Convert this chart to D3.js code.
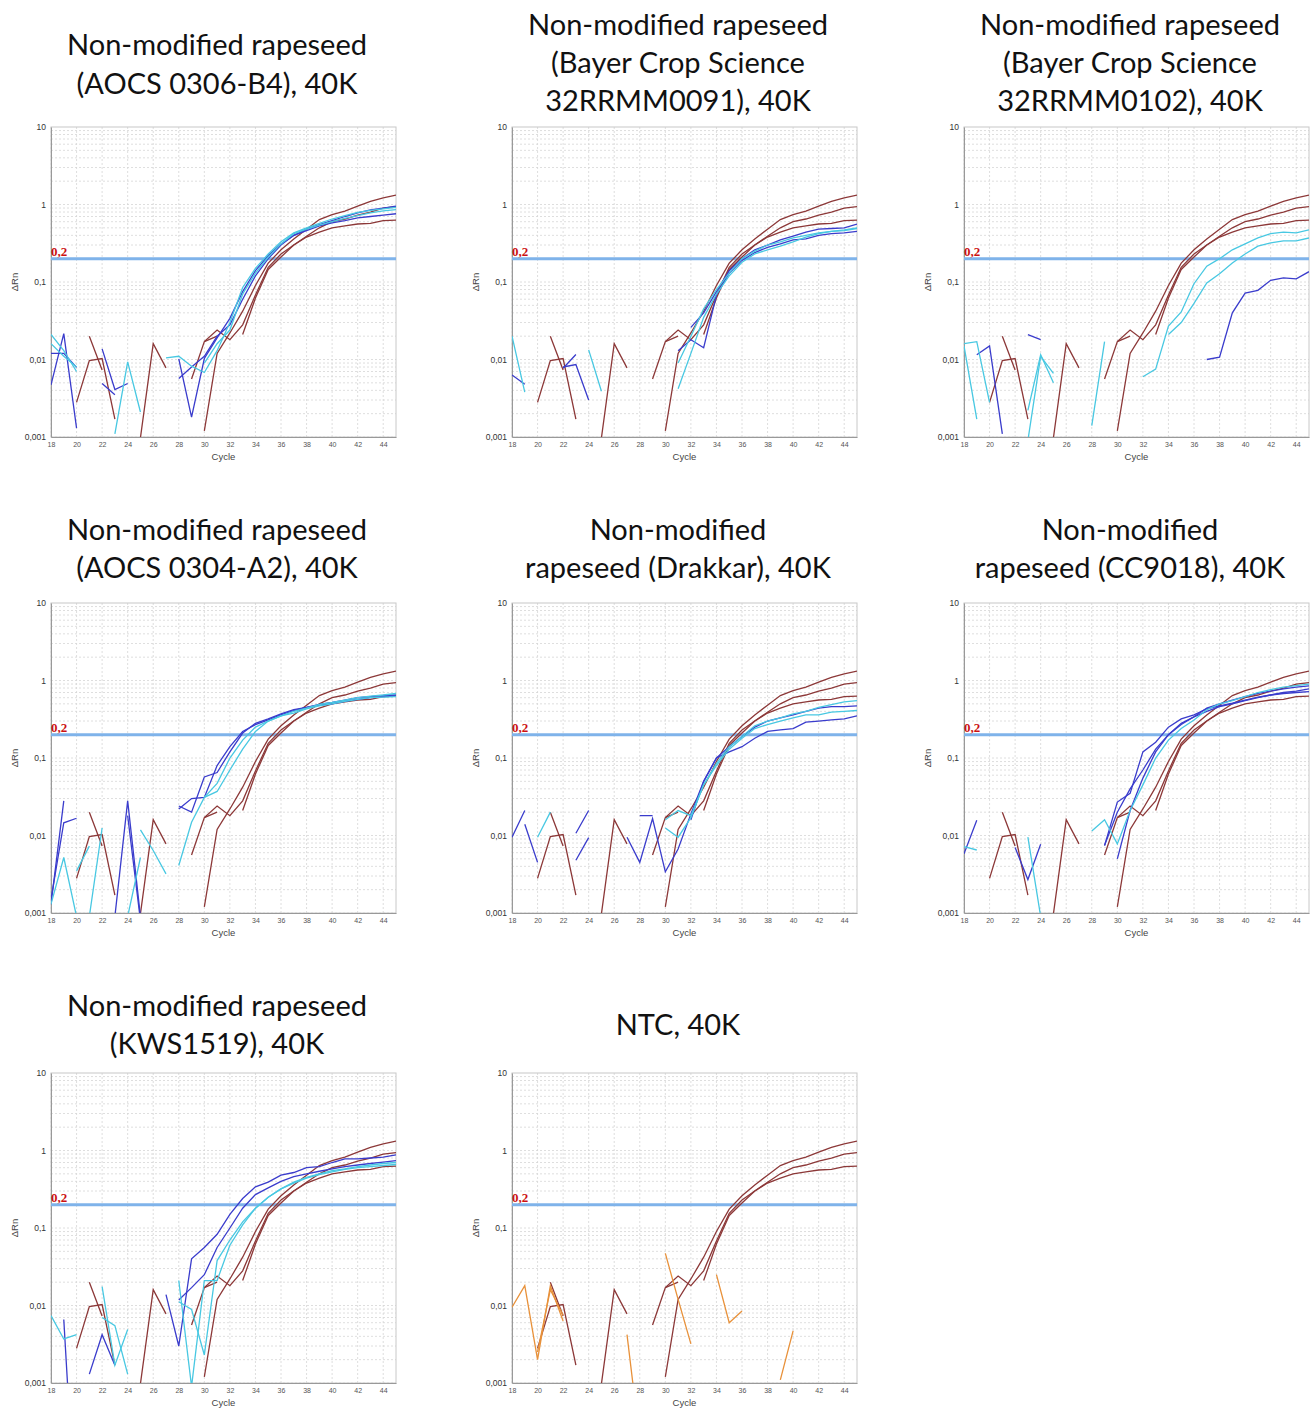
<!DOCTYPE html>
<html>
<head>
<meta charset="utf-8">
<script src="https://cdn.jsdelivr.net/npm/d3@7"></script>
<style>
  body { margin: 0; background: #fff; }
  svg { display: block; }
</style>
</head>
<body>
<svg id="chart" width="1313" height="1408"></svg>
<script>
// Cycle numbers on the x axis
var cycles = [18,19,20,21,22,23,24,25,26,27,28,29,30,31,32,33,34,35,36,37,38,39,40,41,42,43,44,45];
var xTicks = [18,20,22,24,26,28,30,32,34,36,38,40,42,44];
var yTicks = [0.001, 0.01, 0.1, 1, 10];
var threshold = 0.2;

// Positive control (same three amplification curves in every panel)
var control1 = [null,null,.0028,.0097,.0103,.0017,null,null,null,null,null,null,.0012,.012,.022,.042,.09,.175,.26,.36,.48,.64,.74,.82,.95,1.1,1.22,1.32];
var control2 = [null,null,null,.02,.0073,null,null,null,null,null,null,.0056,.017,.024,.018,.028,.068,.155,.23,.3,.39,.5,.6,.65,.73,.8,.9,.94];
var control3 = [null,null,null,null,null,null,null,.00098,.016,.0078,null,null,.017,.02,null,.021,.062,.145,.21,.3,.38,.44,.5,.53,.56,.57,.62,.63];

// Samples: extract A (blue) / extract B (cyan)
var aocs0306B4_A = [
  [.0047,.0216,.0013,null,.0137,.0041,.0049,null,null,null,.0102,.0018,.0103,.019,.034,.075,.14,.22,.31,.4,.46,.53,.58,.62,.67,.7,.73,.76],
  [.012,.012,.0079,null,.0049,.0035,null,null,null,null,.0057,.008,.011,.02,.028,.06,.12,.2,.3,.4,.48,.55,.62,.7,.78,.85,.9,.95]
];
var aocs0306B4_B = [
  [.021,.013,.007,null,null,.0011,.0093,.0021,null,.0105,.011,.0082,.0068,.013,.03,.085,.15,.23,.33,.43,.5,.57,.65,.72,.79,.84,.88,.92],
  [.016,.011,.008,null,null,null,null,null,null,null,null,null,.009,.016,.024,.07,.13,.21,.31,.42,.48,.54,.6,.66,.72,.78,.83,.86]
];
var bayer0091_A = [
  [.0063,.0048,null,null,.0077,.0116,null,null,null,null,null,null,null,.013,.018,.0142,.068,.13,.19,.24,.28,.31,.35,.36,.4,.42,.43,.45],
  [null,null,null,null,.008,.0086,.003,null,null,null,null,null,null,null,.026,.04,.075,.14,.2,.26,.3,.35,.39,.44,.48,.49,.5,.56]
];
var bayer0091_B = [
  [.02,.0038,null,null,null,null,.0133,.0039,null,null,null,null,null,.0042,.012,.035,.07,.12,.18,.23,.26,.29,.33,.38,.42,.45,.46,.49],
  [null,null,null,null,null,null,null,null,null,null,null,null,null,.009,.02,.045,.08,.13,.2,.25,.3,.33,.37,.4,.43,.45,.47,.5]
];
var bayer0102_A = [
  [null,.0115,.015,.0011,null,.021,.018,null,null,null,null,null,null,null,null,null,null,null,null,.01,.0107,.04,.072,.078,.105,.113,.11,.136]
];
var bayer0102_B = [
  [.015,.0017,null,null,null,.0022,.0115,.005,null,null,.0014,.017,null,null,.006,.0075,.027,.041,.095,.16,.2,.26,.31,.37,.42,.44,.43,.47],
  [.016,.017,.0028,null,null,.0009,.011,.0066,null,null,null,null,null,null,null,null,.021,.03,.053,.097,.128,.176,.23,.29,.32,.34,.34,.37]
];
var aocs0304A2_A = [
  [.0013,.028,null,null,null,.0009,.028,.0009,null,null,.024,.02,.057,.065,.12,.21,.28,.32,.37,.42,.45,.49,.52,.56,.6,.62,.64,.65],
  [.0015,.0146,.0167,null,null,null,.018,.0008,null,null,.022,.03,.031,.08,.14,.22,.27,.31,.36,.41,.45,.48,.5,.54,.57,.6,.62,.63]
];
var aocs0304A2_B = [
  [.0013,.0052,.0009,.0009,.0125,null,.0009,.0052,null,null,.0041,.0148,.031,.047,.1,.17,.25,.3,.35,.4,.44,.49,.52,.56,.6,.63,.65,.68],
  [null,null,.0035,.0073,null,null,null,.0118,.0064,.0032,null,null,.031,.037,.07,.13,.22,.3,.35,.38,.43,.47,.5,.54,.57,.6,.61,.62]
];
var drakkar_A = [
  [.0095,.021,null,null,null,.0107,.021,null,null,null,.018,.018,null,null,.016,.05,.1,.14,.19,.25,.3,.33,.36,.4,.44,.46,.46,.47],
  [null,.014,.0045,null,null,.0048,.0094,null,null,.0095,.0045,.0165,.0034,.0067,.019,.05,.1,.12,.14,.18,.22,.23,.24,.29,.3,.31,.32,.35]
];
var drakkar_B = [
  [null,null,.0095,.02,null,null,null,null,null,null,null,null,.0125,.0095,.017,.045,.085,.14,.19,.26,.3,.33,.37,.4,.45,.49,.53,.55],
  [null,null,null,null,null,null,null,null,null,null,null,null,.016,.021,.018,.045,.08,.13,.18,.24,.27,.3,.33,.36,.36,.39,.4,.41]
];
var cc9018_A = [
  [.0058,.0157,null,null,.007,.0027,.0077,null,null,null,null,.0074,.027,.035,.12,.16,.25,.32,.36,.43,.47,.51,.56,.61,.65,.68,.7,.72],
  [null,null,null,null,null,null,null,null,null,null,null,null,.005,.021,.055,.12,.2,.28,.34,.4,.46,.5,.55,.6,.65,.7,.73,.78],
  [null,null,null,null,null,null,null,null,null,null,null,.0075,.02,.04,.07,.13,.2,.27,.34,.44,.5,.56,.62,.68,.73,.78,.82,.85]
];
var cc9018_B = [
  [.0072,.0065,null,null,null,.0095,.0009,null,null,null,.0114,.016,.0078,.021,.045,.1,.17,.24,.31,.42,.5,.55,.62,.7,.76,.82,.86,.9]
];
var kws1519_A = [
  [null,.0066,.00001,null,null,null,null,null,null,.0138,.003,.04,.056,.083,.15,.24,.34,.39,.48,.52,.6,.62,.7,.78,.78,.8,.82,.88],
  [null,null,null,.0013,.0042,.0017,null,null,null,null,.0118,.017,.025,.056,.1,.18,.27,.33,.4,.46,.5,.54,.58,.62,.65,.68,.71,.74]
];
var kws1519_B = [
  [.0074,.0037,.0042,null,.0175,.0017,.0049,null,null,null,.021,.0009,.021,.021,.06,.11,.18,.25,.32,.39,.45,.5,.55,.58,.62,.65,.68,.7],
  [null,null,null,null,.007,.0055,.0013,null,null,null,.0112,.0089,.0023,.038,.07,.12,.18,.25,.32,.38,.44,.49,.53,.57,.6,.62,.64,.66]
];
var ntc = [
  [.0095,.018,.002,.018,.0063,null,null,null,null,.0042,.00018,null,.047,.012,.0032,null,.025,.006,.0085,null,null,.0011,.0047,null,null,null,null,null],
  [null,null,.0025,.016,.0075,null,null,null,null,null,null,null,null,null,null,null,null,null,null,null,null,null,null,null,null,null,null,null]
];

var titles = [
  ["Non-modified rapeseed", "(AOCS 0306-B4), 40K"],
  ["Non-modified rapeseed", "(Bayer Crop Science", "32RRMM0091), 40K"],
  ["Non-modified rapeseed", "(Bayer Crop Science", "32RRMM0102), 40K"],
  ["Non-modified rapeseed", "(AOCS 0304-A2), 40K"],
  ["Non-modified", "rapeseed (Drakkar), 40K"],
  ["Non-modified", "rapeseed (CC9018), 40K"],
  ["Non-modified rapeseed", "(KWS1519), 40K"],
  ["NTC, 40K"]
];

var panels = [
  { title: titles[0], groups: { extractA: aocs0306B4_A, extractB: aocs0306B4_B } },
  { title: titles[1], groups: { extractA: bayer0091_A, extractB: bayer0091_B } },
  { title: titles[2], groups: { extractA: bayer0102_A, extractB: bayer0102_B } },
  { title: titles[3], groups: { extractA: aocs0304A2_A, extractB: aocs0304A2_B } },
  { title: titles[4], groups: { extractA: drakkar_A, extractB: drakkar_B } },
  { title: titles[5], groups: { extractA: cc9018_A, extractB: cc9018_B } },
  { title: titles[6], groups: { extractA: kws1519_A, extractB: kws1519_B } },
  { title: titles[7], groups: { ntc: ntc } }
];

// Layout
var colX = [51, 512, 964];
var rowY = [127, 603, 1073];
var titleY = [[55, 94], [35, 73, 111], [35, 73, 111], [540, 578], [540, 578], [540, 578], [1016, 1054], [1035]];
var pw = 345, ph = 310;
var colors = { control: "#8c3838", extractA: "#3a3ccc", extractB: "#48c8e2", ntc: "#e8913a" };

var svg = d3.select("#chart");
var fmt = function (d) { return String(d).replace(".", ","); };

panels.forEach(function (p, i) {
    var left = colX[i % 3], top = rowY[Math.floor(i / 3)];

    var x = d3.scaleLinear().domain([18, 45]).range([0, pw]);
    var y = d3.scaleLog().domain([0.001, 10]).range([ph, 0]);

    // Title
    svg.append("text")
        .attr("text-anchor", "middle")
        .attr("font-family", "Lato, 'Liberation Sans', sans-serif")
        .attr("font-size", 29)
        .attr("fill", "#111")
        .selectAll("tspan")
        .data(p.title)
        .enter().append("tspan")
        .attr("x", left + 166)
        .attr("y", function (d, k) { return titleY[i][k]; })
        .text(function (d) { return d; });

    var g = svg.append("g").attr("transform", "translate(" + left + "," + top + ")");

    g.append("clipPath").attr("id", "clip" + i)
        .append("rect").attr("width", pw).attr("height", ph);

    // Grid
    var minor = [];
    [0.001, 0.01, 0.1, 1].forEach(function (dec) {
        for (var m = 1; m <= 9; m++) minor.push(dec * m);
    });
    g.selectAll(".hgrid").data(minor).enter().append("line")
        .attr("x1", 0).attr("x2", pw)
        .attr("y1", function (d) { return y(d); }).attr("y2", function (d) { return y(d); })
        .attr("stroke", "#d6d6d6").attr("stroke-width", 0.8)
        .attr("stroke-dasharray", "2,2");
    g.selectAll(".vgrid").data(xTicks).enter().append("line")
        .attr("x1", function (d) { return x(d); }).attr("x2", function (d) { return x(d); })
        .attr("y1", 0).attr("y2", ph)
        .attr("stroke", "#d6d6d6").attr("stroke-width", 0.8)
        .attr("stroke-dasharray", "2,2");

    // Frame
    g.append("rect").attr("width", pw).attr("height", ph)
        .attr("fill", "none").attr("stroke", "#c8c8c8");

    // Axes
    var xAxis = g.append("g").attr("transform", "translate(0," + ph + ")")
        .call(d3.axisBottom(x).tickValues(xTicks).tickSize(0).tickPadding(5));
    xAxis.select(".domain").attr("stroke", "#999");
    xAxis.selectAll("text").attr("font-size", 7).attr("fill", "#555")
        .attr("font-family", "'Liberation Sans', Arial, sans-serif");

    var yAxis = g.append("g")
        .call(d3.axisLeft(y).tickValues(yTicks).tickFormat(fmt).tickSize(0).tickPadding(5));
    yAxis.select(".domain").attr("stroke", "#999");
    yAxis.selectAll("text").attr("font-size", 8.5).attr("fill", "#333")
        .attr("font-family", "'Liberation Sans', Arial, sans-serif");

    g.append("text")
        .attr("x", pw / 2).attr("y", ph + 23)
        .attr("text-anchor", "middle")
        .attr("font-size", 9.5).attr("fill", "#444")
        .attr("font-family", "'Liberation Sans', Arial, sans-serif")
        .text("Cycle");
    g.append("text")
        .attr("transform", "translate(-33," + (ph / 2) + ") rotate(-90)")
        .attr("text-anchor", "middle")
        .attr("font-size", 9.5).attr("fill", "#444")
        .attr("font-family", "'Liberation Sans', Arial, sans-serif")
        .text("ΔRn");

    // Threshold
    g.append("line")
        .attr("x1", 0).attr("x2", pw)
        .attr("y1", y(threshold)).attr("y2", y(threshold))
        .attr("stroke", "#7fb3ea").attr("stroke-width", 3);
    g.append("text")
        .attr("x", 0).attr("y", y(threshold) - 2.5)
        .attr("font-family", "'Liberation Serif', 'DejaVu Serif', serif")
        .attr("font-weight", "bold").attr("font-size", 13)
        .attr("fill", "#cc1111")
        .text(fmt(threshold));

    // Curves
    var line = d3.line()
        .defined(function (d) { return d != null; })
        .x(function (d, k) { return x(cycles[k]); })
        .y(function (d) { return y(d); });

    var plot = g.append("g").attr("clip-path", "url(#clip" + i + ")");

    var series = [];
    [control1, control2, control3].forEach(function (v) { series.push({ kind: "control", v: v }); });
    Object.keys(p.groups).forEach(function (k) {
        p.groups[k].forEach(function (v) { series.push({ kind: k, v: v }); });
    });

    plot.selectAll(".curve").data(series).enter().append("path")
        .attr("class", "curve")
        .attr("d", function (d) { return line(d.v); })
        .attr("fill", "none")
        .attr("stroke", function (d) { return colors[d.kind]; })
        .attr("stroke-width", 1.3);
});
</script>
</body>
</html>
